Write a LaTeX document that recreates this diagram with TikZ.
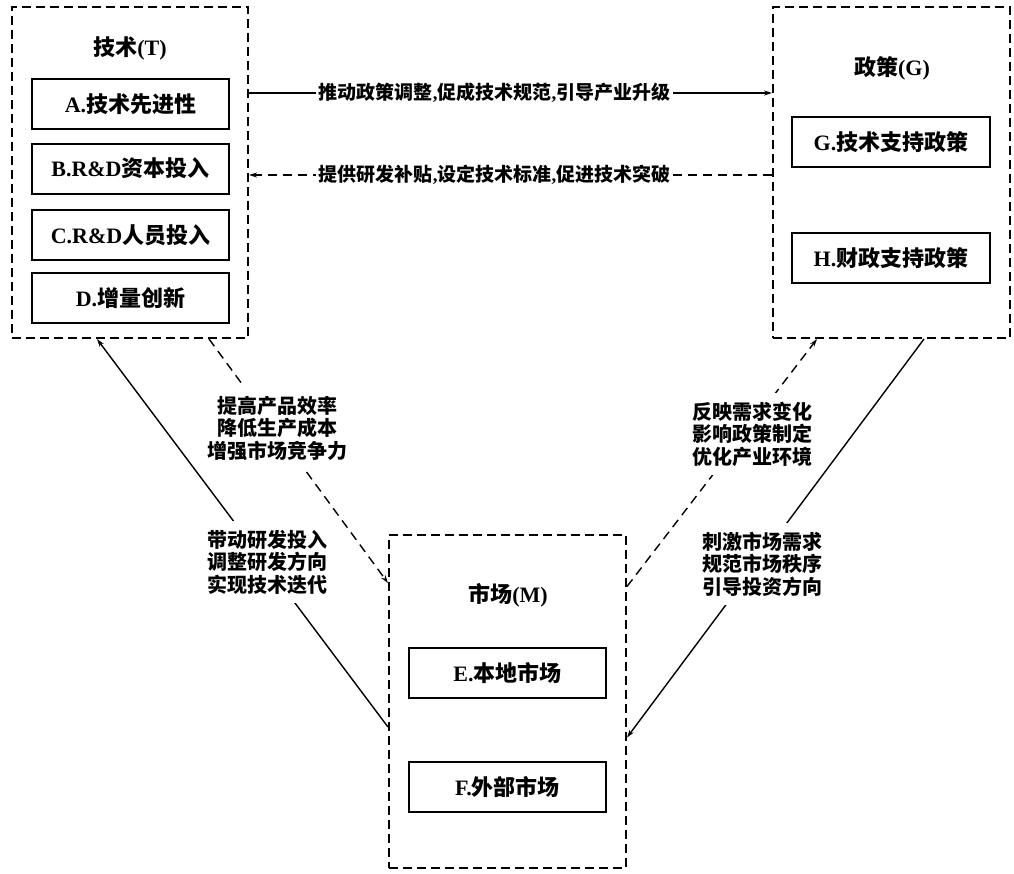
\documentclass[tikz,border=0pt]{standalone}
\usepackage{fontspec}
\setmainfont{Liberation Serif}
\newfontfamily\cjk{Noto Sans CJK SC}
\usetikzlibrary{arrows.meta,calc}
\newcommand\zh[1]{{\cjk #1}}
\begin{document}
\begin{tikzpicture}[x=1pt,y=-1pt,
  group/.style={draw, dash pattern=on 9pt off 5pt, line width=2pt, inner sep=0pt},
  item/.style={draw, line width=2pt, minimum width=197pt, minimum height=50pt, inner sep=0pt, font=\fontsize{22}{26}\selectfont\bfseries},
  ttl/.style={font=\fontsize{22}{26}\selectfont\bfseries, inner sep=0pt},
  lbl/.style={font=\fontsize{20}{22.5}\selectfont\bfseries, align=center, fill=white, inner xsep=3pt, inner ysep=9pt},
  hlbl/.style={lbl, font=\fontsize{19}{22}\selectfont\bfseries, inner ysep=3pt},
  arr/.style={-{Stealth[length=8pt,width=5pt]}, line width=1.4pt},
  darr/.style={arr, dash pattern=on 9pt off 6pt}]
\useasboundingbox (0,0) rectangle (1014,873);
% groups
\node[group, minimum width=236pt, minimum height=331pt] (T) at (130,172.5) {};
\node[group, minimum width=237pt, minimum height=331pt] (G) at (891.5,172.5) {};
\node[group, minimum width=237pt, minimum height=333pt] (M) at (507.5,701.5) {};
% titles
\node[ttl] (Tt) at (130,48) {\zh{技术}(T)};
\node[ttl] (Gt) at (892,68) {\zh{政策}(G)};
\node[ttl] (Mt) at (508,595) {\zh{市场}(M)};
% items
\node[item] (A) at (130.5,104) {A.\zh{技术先进性}};
\node[item] (B) at (130.5,168.5) {B.R\&D\zh{资本投入}};
\node[item] (C) at (130.5,235) {C.R\&D\zh{人员投入}};
\node[item] (D) at (130.5,298) {D.\zh{增量创新}};
\node[item, minimum width=198pt] (Gi) at (891,142) {G.\zh{技术支持政策}};
\node[item, minimum width=198pt] (H) at (891,258) {H.\zh{财政支持政策}};
\node[item] (E) at (507.5,673) {E.\zh{本地市场}};
\node[item] (F) at (507.5,787) {F.\zh{外部市场}};
% connectors
\coordinate (ya) at (0,93);
\coordinate (yb) at (0,175);
\draw[arr] (T.east |- ya) -- (G.west |- ya);
\draw[darr] (G.west |- yb) -- (T.east |- yb);
\draw[arr] ($(M.west)+(0,25.5)$) -- ($(T.south west)+(86,0)$);
\draw[darr] ($(T.south west)+(198,0)$) -- ($(M.west)+(0,-118.5)$);
\draw[darr] ($(M.east)+(0,-115)$) -- ($(G.south west)+(45,0)$);
\draw[arr] ($(G.south west)+(152,0)$) -- ($(M.east)+(0,36)$);
% labels
\node[hlbl] (l1) at (494.5,93) {\zh{推动政策调整},\zh{促成技术规范},\zh{引导产业升级}};
\node[hlbl] (l2) at (494.5,175) {\zh{提供研发补贴},\zh{设定技术标准},\zh{促进技术突破}};
\node[lbl] (l3) at (277,428) {\zh{提高产品效率}\\\zh{降低生产成本}\\\zh{增强市场竞争力}};
\node[lbl] (l4) at (267,562) {\zh{带动研发投入}\\\zh{调整研发方向}\\\zh{实现技术迭代}};
\node[lbl] (l5) at (752,434) {\zh{反映需求变化}\\\zh{影响政策制定}\\\zh{优化产业环境}};
\node[lbl] (l6) at (762,564) {\zh{刺激市场需求}\\\zh{规范市场秩序}\\\zh{引导投资方向}};
\end{tikzpicture}
\end{document}
